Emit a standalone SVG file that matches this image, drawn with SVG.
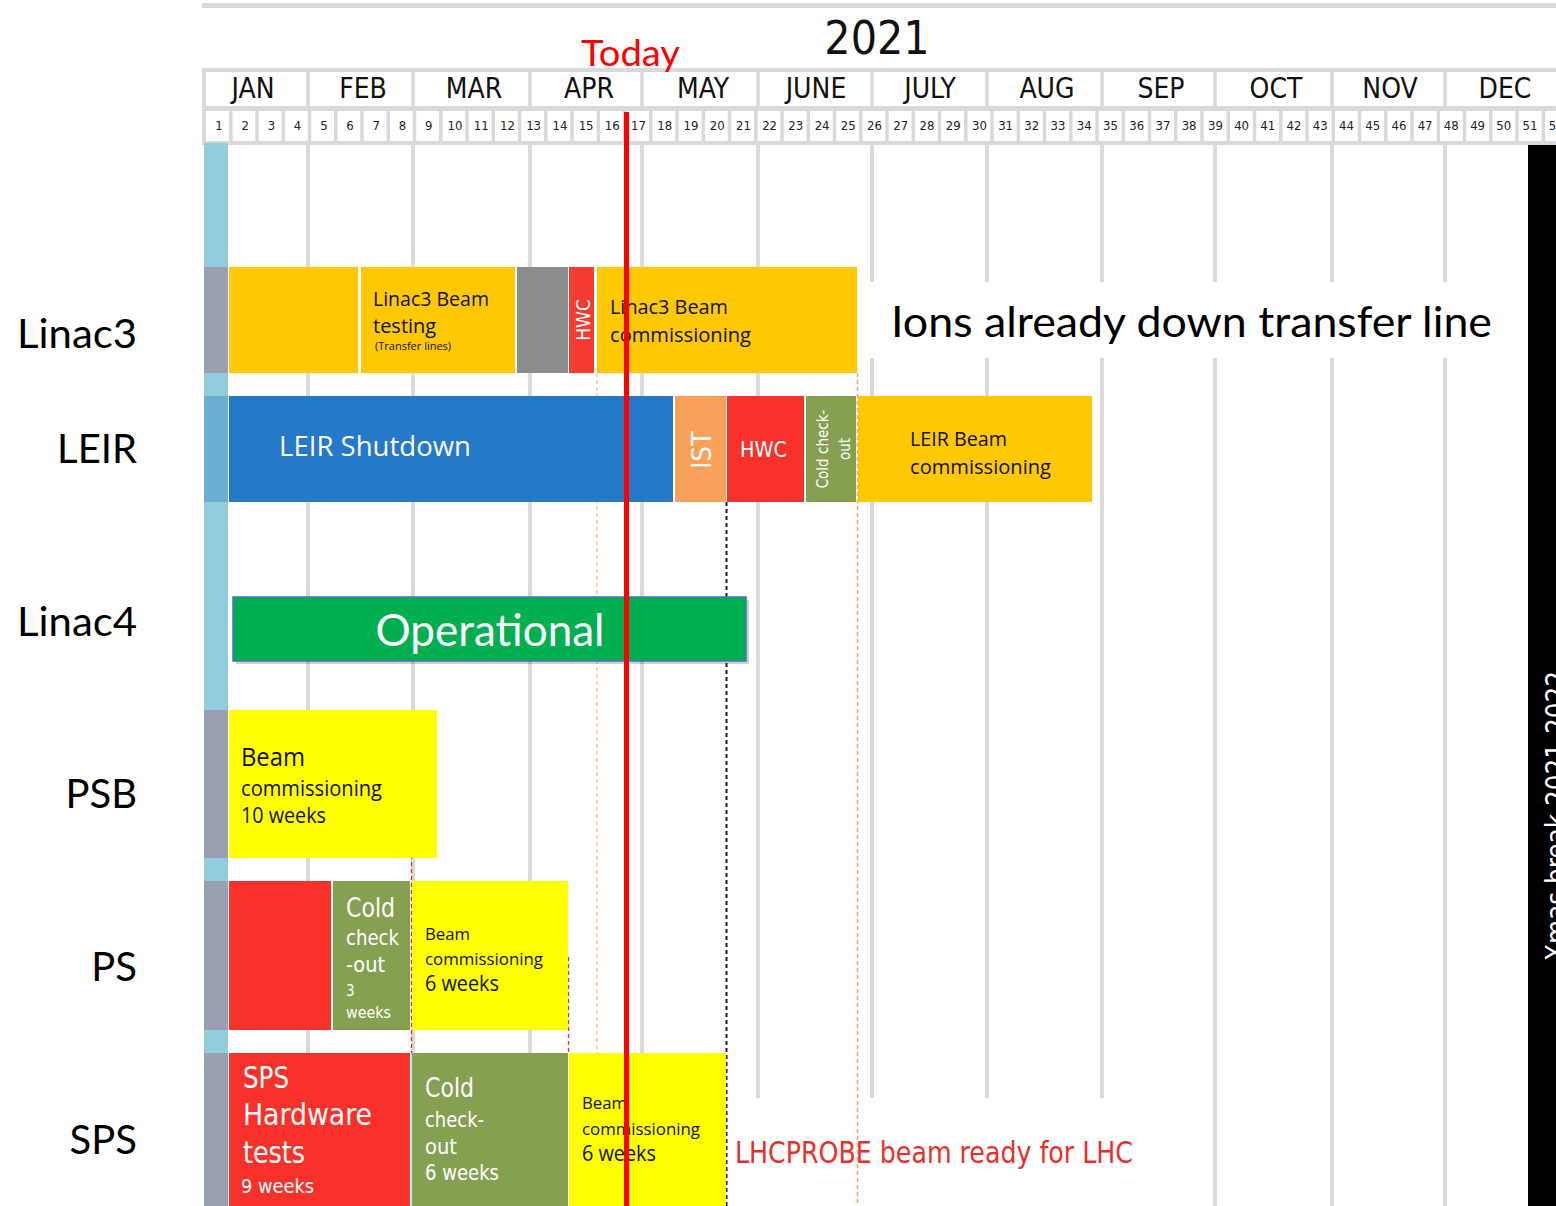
<svg xmlns="http://www.w3.org/2000/svg" width="1556" height="1206" viewBox="0 0 1556 1206">
<style>
.cal{font-family:Lato,"Open Sans","Liberation Sans",sans-serif}
.frt{font-family:"Open Sans","Noto Sans","Liberation Sans",sans-serif}
.din{font-family:"Liberation Sans Narrow","DejaVu Sans",Roboto,sans-serif;font-stretch:condensed}
.wk{font-size:13px;fill:#222;text-anchor:middle}
.mo{font-size:28px;fill:#111;text-anchor:middle}
.lbl{font-size:40px;fill:#000;text-anchor:end}
.grid{stroke:#dadada;stroke-width:4}
.sep{stroke:#d9d9d9;stroke-width:3.5}
.w{fill:#fff}
.k{fill:#111}
</style>
<rect width="1556" height="1206" fill="#fff"/>
<!-- header -->
<g id="header">
<rect x="202" y="3" width="1354" height="5" fill="#d9d9d9"/>
<text x="877" y="54" class="din" font-size="46" fill="#111" text-anchor="middle">2021</text>
<rect x="202" y="68" width="1354" height="77" fill="#d9d9d9"/>
<rect x="206" y="72" width="1350" height="34" fill="#fff"/>
<rect x="206" y="111" width="1350" height="30" fill="#fff"/>
<g class="sep">
<line x1="308" y1="70" x2="308" y2="108"/><line x1="413" y1="70" x2="413" y2="108"/><line x1="530" y1="70" x2="530" y2="108"/><line x1="642" y1="70" x2="642" y2="108"/><line x1="758" y1="70" x2="758" y2="108"/><line x1="872" y1="70" x2="872" y2="108"/><line x1="987" y1="70" x2="987" y2="108"/><line x1="1102" y1="70" x2="1102" y2="108"/><line x1="1215" y1="70" x2="1215" y2="108"/><line x1="1332" y1="70" x2="1332" y2="108"/><line x1="1445" y1="70" x2="1445" y2="108"/>
</g>
<g class="sep">
<line x1="230.8" y1="109" x2="230.8" y2="143"/><line x1="257" y1="109" x2="257" y2="143"/><line x1="283.3" y1="109" x2="283.3" y2="143"/><line x1="309.5" y1="109" x2="309.5" y2="143"/><line x1="335.8" y1="109" x2="335.8" y2="143"/><line x1="362" y1="109" x2="362" y2="143"/><line x1="388.3" y1="109" x2="388.3" y2="143"/><line x1="414.5" y1="109" x2="414.5" y2="143"/><line x1="440.8" y1="109" x2="440.8" y2="143"/><line x1="467" y1="109" x2="467" y2="143"/><line x1="493.3" y1="109" x2="493.3" y2="143"/><line x1="519.5" y1="109" x2="519.5" y2="143"/><line x1="545.8" y1="109" x2="545.8" y2="143"/><line x1="572" y1="109" x2="572" y2="143"/><line x1="598.3" y1="109" x2="598.3" y2="143"/><line x1="624.5" y1="109" x2="624.5" y2="143"/><line x1="650.8" y1="109" x2="650.8" y2="143"/><line x1="677" y1="109" x2="677" y2="143"/><line x1="703.3" y1="109" x2="703.3" y2="143"/><line x1="729.5" y1="109" x2="729.5" y2="143"/><line x1="755.8" y1="109" x2="755.8" y2="143"/><line x1="782" y1="109" x2="782" y2="143"/><line x1="808.3" y1="109" x2="808.3" y2="143"/><line x1="834.5" y1="109" x2="834.5" y2="143"/><line x1="860.8" y1="109" x2="860.8" y2="143"/><line x1="887" y1="109" x2="887" y2="143"/><line x1="913.3" y1="109" x2="913.3" y2="143"/><line x1="939.5" y1="109" x2="939.5" y2="143"/><line x1="965.8" y1="109" x2="965.8" y2="143"/><line x1="992" y1="109" x2="992" y2="143"/><line x1="1018.3" y1="109" x2="1018.3" y2="143"/><line x1="1044.5" y1="109" x2="1044.5" y2="143"/><line x1="1070.8" y1="109" x2="1070.8" y2="143"/><line x1="1097" y1="109" x2="1097" y2="143"/><line x1="1123.3" y1="109" x2="1123.3" y2="143"/><line x1="1149.5" y1="109" x2="1149.5" y2="143"/><line x1="1175.8" y1="109" x2="1175.8" y2="143"/><line x1="1202" y1="109" x2="1202" y2="143"/><line x1="1228.3" y1="109" x2="1228.3" y2="143"/><line x1="1254.5" y1="109" x2="1254.5" y2="143"/><line x1="1280.8" y1="109" x2="1280.8" y2="143"/><line x1="1307" y1="109" x2="1307" y2="143"/><line x1="1333.3" y1="109" x2="1333.3" y2="143"/><line x1="1359.5" y1="109" x2="1359.5" y2="143"/><line x1="1385.8" y1="109" x2="1385.8" y2="143"/><line x1="1412" y1="109" x2="1412" y2="143"/><line x1="1438.3" y1="109" x2="1438.3" y2="143"/><line x1="1464.5" y1="109" x2="1464.5" y2="143"/><line x1="1490.8" y1="109" x2="1490.8" y2="143"/><line x1="1517" y1="109" x2="1517" y2="143"/><line x1="1543.3" y1="109" x2="1543.3" y2="143"/>
</g>
<g class="din mo">
<text x="253" y="98">JAN</text><text x="363" y="98">FEB</text><text x="474" y="98">MAR</text><text x="589" y="98">APR</text><text x="703" y="98">MAY</text><text x="816" y="98">JUNE</text><text x="930" y="98">JULY</text><text x="1047" y="98">AUG</text><text x="1161" y="98">SEP</text><text x="1276" y="98">OCT</text><text x="1390" y="98">NOV</text><text x="1505" y="98">DEC</text>
</g>
<g class="din wk">
<text x="219" y="130">1</text><text x="245.2" y="130">2</text><text x="271.4" y="130">3</text><text x="297.6" y="130">4</text><text x="323.9" y="130">5</text><text x="350.1" y="130">6</text><text x="376.3" y="130">7</text><text x="402.5" y="130">8</text><text x="428.8" y="130">9</text><text x="455" y="130">10</text><text x="481.2" y="130">11</text><text x="507.4" y="130">12</text><text x="533.6" y="130">13</text><text x="559.9" y="130">14</text><text x="586.1" y="130">15</text><text x="612.3" y="130">16</text><text x="638.5" y="130">17</text><text x="664.7" y="130">18</text><text x="691" y="130">19</text><text x="717.2" y="130">20</text><text x="743.4" y="130">21</text><text x="769.6" y="130">22</text><text x="795.8" y="130">23</text><text x="822.1" y="130">24</text><text x="848.3" y="130">25</text><text x="874.5" y="130">26</text><text x="900.7" y="130">27</text><text x="926.9" y="130">28</text><text x="953.2" y="130">29</text><text x="979.4" y="130">30</text><text x="1005.6" y="130">31</text><text x="1031.8" y="130">32</text><text x="1058" y="130">33</text><text x="1084.3" y="130">34</text><text x="1110.5" y="130">35</text><text x="1136.7" y="130">36</text><text x="1162.9" y="130">37</text><text x="1189.1" y="130">38</text><text x="1215.4" y="130">39</text><text x="1241.6" y="130">40</text><text x="1267.8" y="130">41</text><text x="1294" y="130">42</text><text x="1320.2" y="130">43</text><text x="1346.5" y="130">44</text><text x="1372.7" y="130">45</text><text x="1398.9" y="130">46</text><text x="1425.1" y="130">47</text><text x="1451.3" y="130">48</text><text x="1477.6" y="130">49</text><text x="1503.8" y="130">50</text><text x="1530" y="130">51</text><text x="1556.2" y="130">52</text>
</g>
</g>
<!-- grid -->
<g id="grid" class="grid">
<line x1="308" y1="143" x2="308" y2="1206"/><line x1="413" y1="143" x2="413" y2="1206"/><line x1="530" y1="143" x2="530" y2="1206"/><line x1="642" y1="143" x2="642" y2="1100"/><line x1="758" y1="143" x2="758" y2="1098"/><line x1="872" y1="143" x2="872" y2="1098"/><line x1="987" y1="143" x2="987" y2="1098"/><line x1="1102" y1="143" x2="1102" y2="1098"/><line x1="1215" y1="143" x2="1215" y2="1206"/><line x1="1332" y1="143" x2="1332" y2="1206"/><line x1="1445" y1="143" x2="1445" y2="1206"/>
</g>
<!-- left column -->
<g id="leftcol">
<rect x="204" y="143" width="24" height="1063" fill="#92cddc"/>
<rect x="204" y="267" width="24" height="106" fill="#9aa1ae"/>
<rect x="204" y="396" width="24" height="106" fill="#6aafd2"/>
<rect x="204" y="710" width="24" height="148" fill="#9aa1ae"/>
<rect x="204" y="881" width="24" height="149" fill="#9aa1ae"/>
<rect x="204" y="1053" width="24" height="153" fill="#9aa1ae"/>
</g>
<!-- row labels -->
<g id="labels" class="cal lbl">
<text x="137" y="348" textLength="120" lengthAdjust="spacingAndGlyphs">Linac3</text>
<text x="137" y="463">LEIR</text>
<text x="137" y="636" textLength="120" lengthAdjust="spacingAndGlyphs">Linac4</text>
<text x="137" y="808">PSB</text>
<text x="137" y="981">PS</text>
<text x="137" y="1154">SPS</text>
</g>
<!-- connectors: dashed milestone lines -->
<g id="connectors" fill="none">
<line x1="726.5" y1="502" x2="726.5" y2="1206" stroke="#222" stroke-width="2" stroke-dasharray="4,3"/>
<line x1="857.5" y1="373" x2="857.5" y2="1206" stroke="#f4a460" stroke-width="1.5" stroke-dasharray="4,3"/>
<line x1="597" y1="373" x2="597" y2="1053" stroke="#f4a460" stroke-width="1.2" stroke-dasharray="4,3" opacity="0.8"/>
<line x1="411.5" y1="785" x2="411.5" y2="1053" stroke="#e03030" stroke-width="1.3" stroke-dasharray="4,3"/>
<line x1="568.5" y1="957" x2="568.5" y2="1053" stroke="#e03030" stroke-width="1.3" stroke-dasharray="4,3"/>
</g>
<!-- Linac3 row -->
<g id="linac3">
<rect x="229" y="267" width="129" height="106" fill="#ffc805"/>
<rect x="361" y="267" width="154" height="106" fill="#ffc805"/>
<rect x="517" y="267" width="51" height="106" fill="#8c8c8c"/>
<rect x="569" y="267" width="25" height="106" fill="#f53b32"/>
<rect x="597" y="267" width="260" height="106" fill="#ffc805"/>
<g class="frt k">
<text x="373" y="306" font-size="20" textLength="116" lengthAdjust="spacingAndGlyphs">Linac3 Beam</text>
<text x="373" y="333" font-size="20">testing</text>
<text x="375" y="350" font-size="11">(Transfer lines)</text>
<text x="610" y="314" font-size="20" textLength="118" lengthAdjust="spacingAndGlyphs">Linac3 Beam</text>
<text x="610" y="342" font-size="20" textLength="141" lengthAdjust="spacingAndGlyphs">commissioning</text>
</g>
<text class="din" transform="translate(590,320) rotate(-90)" font-size="19" fill="#fff" text-anchor="middle">HWC</text>
</g>
<!-- annotation -->
<g id="ions">
<rect x="868" y="282" width="644" height="76" fill="#fff"/>
<text x="891" y="337" class="cal" font-size="42" fill="#000" textLength="601" lengthAdjust="spacingAndGlyphs">Ions already down transfer line</text>
</g>
<!-- LEIR row -->
<g id="leir">
<rect x="229" y="396" width="444" height="106" fill="#2479c9"/>
<rect x="675" y="396" width="51" height="106" fill="#f9a15b"/>
<rect x="727" y="396" width="77" height="106" fill="#f8322a"/>
<rect x="806" y="396" width="50" height="106" fill="#86a052"/>
<rect x="858" y="396" width="234" height="106" fill="#ffc805"/>
<text x="279" y="456" class="frt" font-size="28" fill="#fff" textLength="192" lengthAdjust="spacingAndGlyphs">LEIR Shutdown</text>
<text class="din" transform="translate(711,450) rotate(-90)" font-size="27" fill="#fff" text-anchor="middle">IST</text>
<text x="740" y="457" class="din" font-size="21" fill="#fff" textLength="47" lengthAdjust="spacingAndGlyphs">HWC</text>
<text class="din" transform="translate(828,449) rotate(-90)" font-size="15" fill="#fff" text-anchor="middle">Cold check-</text>
<text class="din" transform="translate(850,449) rotate(-90)" font-size="15" fill="#fff" text-anchor="middle">out</text>
<text x="910" y="446" class="frt k" font-size="20" textLength="97" lengthAdjust="spacingAndGlyphs">LEIR Beam</text>
<text x="910" y="474" class="frt k" font-size="20" textLength="141" lengthAdjust="spacingAndGlyphs">commissioning</text>
</g>
<!-- Linac4 row -->
<g id="linac4">
<rect x="236" y="600" width="513" height="64" fill="#000" opacity="0.18"/>
<rect x="233" y="597" width="513" height="64" fill="#00b050" stroke="#4472c4" stroke-width="1.5"/>
<text x="490" y="646" class="cal" font-size="44" fill="#fff" text-anchor="middle" textLength="229" lengthAdjust="spacingAndGlyphs">Operational</text>
</g>
<!-- PSB row -->
<g id="psb">
<rect x="229" y="710" width="208" height="148" fill="#ffff00"/>
<g class="frt k">
<text x="241" y="766" font-size="26" textLength="64" lengthAdjust="spacingAndGlyphs">Beam</text>
<text x="241" y="796" font-size="21" textLength="141" lengthAdjust="spacingAndGlyphs">commissioning</text>
<text x="241" y="823" font-size="21" textLength="85" lengthAdjust="spacingAndGlyphs">10 weeks</text>
</g>
</g>
<!-- PS row -->
<g id="ps">
<rect x="229" y="881" width="102" height="149" fill="#f8322a"/>
<rect x="333" y="881" width="77" height="149" fill="#86a052"/>
<rect x="412" y="881" width="156" height="149" fill="#ffff00"/>
<g class="din" fill="#fff">
<text x="346" y="917" font-size="27" textLength="49" lengthAdjust="spacingAndGlyphs">Cold</text>
<text x="346" y="945" font-size="22" textLength="53" lengthAdjust="spacingAndGlyphs">check</text>
<text x="346" y="972" font-size="22" textLength="39" lengthAdjust="spacingAndGlyphs">-out</text>
<text x="346" y="996" font-size="15">3</text>
<text x="346" y="1018" font-size="16" textLength="45" lengthAdjust="spacingAndGlyphs">weeks</text>
</g>
<g class="frt k">
<text x="425" y="940" font-size="17" textLength="45" lengthAdjust="spacingAndGlyphs">Beam</text>
<text x="425" y="965" font-size="17" textLength="118" lengthAdjust="spacingAndGlyphs">commissioning</text>
<text x="425" y="991" font-size="21" textLength="74" lengthAdjust="spacingAndGlyphs">6 weeks</text>
</g>
</g>
<!-- SPS row -->
<g id="sps">
<rect x="229" y="1053" width="181" height="153" fill="#f8322a"/>
<rect x="412" y="1053" width="156" height="153" fill="#86a052"/>
<rect x="569" y="1053" width="157" height="153" fill="#ffff00"/>
<g class="din" fill="#fff">
<text x="243" y="1088" font-size="30" textLength="46" lengthAdjust="spacingAndGlyphs">SPS</text>
<text x="243" y="1125" font-size="30" textLength="129" lengthAdjust="spacingAndGlyphs">Hardware</text>
<text x="243" y="1163" font-size="30" textLength="62" lengthAdjust="spacingAndGlyphs">tests</text>
<text x="241" y="1193" font-size="20" textLength="73" lengthAdjust="spacingAndGlyphs">9 weeks</text>
<text x="425" y="1097" font-size="27" textLength="49" lengthAdjust="spacingAndGlyphs">Cold</text>
<text x="425" y="1127" font-size="22" textLength="59" lengthAdjust="spacingAndGlyphs">check-</text>
<text x="425" y="1154" font-size="22" textLength="32" lengthAdjust="spacingAndGlyphs">out</text>
<text x="425" y="1180" font-size="22" textLength="74" lengthAdjust="spacingAndGlyphs">6 weeks</text>
</g>
<g class="frt k">
<text x="582" y="1109" font-size="17" textLength="45" lengthAdjust="spacingAndGlyphs">Beam</text>
<text x="582" y="1135" font-size="17" textLength="118" lengthAdjust="spacingAndGlyphs">commissioning</text>
<text x="582" y="1161" font-size="21" textLength="74" lengthAdjust="spacingAndGlyphs">6 weeks</text>
</g>
</g>
<!-- LHC note -->
<text id="lhcprobe" x="735" y="1163" class="din" font-size="30" fill="#e8302a" textLength="398" lengthAdjust="spacingAndGlyphs">LHCPROBE beam ready for LHC</text>
<!-- Xmas break -->
<g id="xmas">
<rect x="1528" y="145" width="28" height="1061" fill="#000"/>
<text class="din" transform="translate(1566,816) rotate(-90)" font-size="28" fill="#fff" text-anchor="middle" textLength="290" lengthAdjust="spacingAndGlyphs">Xmas break 2021-2022</text>
</g>
<!-- Today -->
<g id="today">
<line x1="626.5" y1="112" x2="626.5" y2="1206" stroke="#ff0000" stroke-width="5"/>
<text x="581" y="66" class="cal" font-size="37" fill="#ff0000" textLength="99" lengthAdjust="spacingAndGlyphs">Today</text>
</g>
</svg>
